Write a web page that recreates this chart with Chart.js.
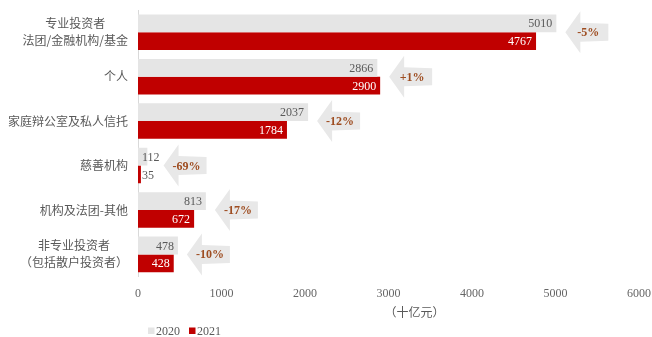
<!DOCTYPE html>
<html>
<head>
<meta charset="utf-8">
<script src="https://cdn.jsdelivr.net/npm/chart.js@4"></script>
<style>
  html, body { margin: 0; padding: 0; background: #fff; }
  #wrap { width: 652px; height: 337px; }
</style>
</head>
<body>
<div id="wrap"><canvas id="chart" width="652" height="337"></canvas></div>
<script>
// Dados do gráfico
const categorias = [
  ["专业投资者", "法团/金融机构/基金"],
  ["个人"],
  ["家庭辩公室及私人信托"],
  ["慈善机构"],
  ["机构及法团-其他"],
  ["非专业投资者", "（包括散户投资者）"],
];
const valores2020 = [5010, 2866, 2037, 112, 813, 478];
const valores2021 = [4767, 2900, 1784, 35, 672, 428];
const variacao = ["-5%", "+1%", "-12%", "-69%", "-17%", "-10%"];
const seriesNomes = ["2020", "2021"];
const ticksX = [0, 1000, 2000, 3000, 4000, 5000, 6000];
const tituloEixo = "（十亿元）";

const cores = {
  cinza: "#e5e5e5",
  vermelho: "#c00000",
  texto: "#595959",
  seta: "#e8e8e8",
  pct: "#9e4d21",
};
const serif = "'Liberation Serif', 'Noto Sans CJK SC', serif";
const cjk = "'Noto Sans CJK SC', 'Liberation Serif', sans-serif";

// Plugin: rótulos, setas, categorias, título do eixo e legenda
const extras = {
  id: "extras",
  afterDatasetsDraw(chart) {
    const ctx = chart.ctx;
    const x = chart.scales.x;
    const y = chart.scales.y;
    const base = x.getPixelForValue(0);
    const m0 = chart.getDatasetMeta(0);
    const m1 = chart.getDatasetMeta(1);

    ctx.save();
    ctx.textBaseline = "middle";
    ctx.font = "12px " + serif;

    // rótulos de valores
    const fimRotulo = [];
    categorias.forEach((c, i) => {
      let fim = 0;
      [[m0, valores2020, cores.texto], [m1, valores2021, "#fff"]].forEach(([meta, vals, cor]) => {
        const bar = meta.data[i];
        const txt = String(vals[i]);
        const w = ctx.measureText(txt).width;
        if (bar.x - base < 30) {
          ctx.fillStyle = cores.texto;
          ctx.textAlign = "left";
          ctx.fillText(txt, base + 4, bar.y + 1);
          fim = Math.max(fim, base + 4 + w);
        } else {
          ctx.fillStyle = cor;
          ctx.textAlign = "right";
          ctx.fillText(txt, bar.x - 4, bar.y + 1);
          fim = Math.max(fim, bar.x);
        }
      });
      fimRotulo.push(fim);
    });

    // setas com a variação
    categorias.forEach((c, i) => {
      const cy = y.getPixelForValue(i);
      const tip = fimRotulo[i] + (valores2020[i] < 300 ? 4 : 9);
      const head = 15, len = 43, hh = 21, sh = 9.5;
      ctx.fillStyle = cores.seta;
      ctx.beginPath();
      ctx.moveTo(tip, cy);
      ctx.lineTo(tip + head, cy - hh);
      ctx.lineTo(tip + head, cy - sh);
      ctx.lineTo(tip + len, cy - sh + 1);
      ctx.lineTo(tip + len, cy + sh - 1);
      ctx.lineTo(tip + head, cy + sh);
      ctx.lineTo(tip + head, cy + hh);
      ctx.closePath();
      ctx.fill();
      ctx.fillStyle = cores.pct;
      ctx.font = "bold 12px " + serif;
      ctx.textAlign = "center";
      ctx.fillText(variacao[i], tip + 23, cy + 1);
    });

    // categorias (eixo y)
    ctx.font = "12px " + cjk;
    ctx.fillStyle = cores.texto;
    ctx.textAlign = "center";
    categorias.forEach((linhas, i) => {
      const cy = y.getPixelForValue(i);
      const maxW = Math.max(...linhas.map((l) => ctx.measureText(l).width));
      const cx = x.left - 10 - maxW / 2;
      const passo = 17;
      linhas.forEach((l, k) => {
        ctx.fillText(l, cx, cy + (k - (linhas.length - 1) / 2) * passo);
      });
    });

    // título do eixo x
    ctx.fillText(tituloEixo, (x.left + x.right) / 2 + 26, 312);

    // legenda
    const ly = 331;
    let lx = 148;
    ctx.font = "12px " + serif;
    ctx.textAlign = "left";
    [cores.cinza, cores.vermelho].forEach((cor, k) => {
      ctx.fillStyle = cor;
      ctx.fillRect(lx, ly - 3.5, 6.5, 6.5);
      ctx.fillStyle = cores.texto;
      ctx.fillText(seriesNomes[k], lx + 8, ly + 0.5);
      lx += 41;
    });
    ctx.restore();
  },
};

new Chart(document.getElementById("chart").getContext("2d"), {
  type: "bar",
  data: {
    labels: categorias,
    datasets: [
      {
        label: seriesNomes[0],
        data: valores2020,
        backgroundColor: cores.cinza,
        categoryPercentage: 0.8,
        barPercentage: 1.0,
      },
      {
        label: seriesNomes[1],
        data: valores2021,
        backgroundColor: cores.vermelho,
        categoryPercentage: 0.8,
        barPercentage: 1.0,
      },
    ],
  },
  options: {
    indexAxis: "y",
    responsive: false,
    animation: false,
    layout: { padding: { left: 138, right: 13, top: 10, bottom: 26 } },
    plugins: { legend: { display: false }, tooltip: { enabled: false } },
    scales: {
      x: {
        min: 0,
        max: 6000,
        afterBuildTicks(axis) {
          axis.ticks = ticksX.map((v) => ({ value: v }));
        },
        afterFit(axis) {
          axis.paddingLeft = 0;
          axis.paddingRight = 0;
        },
        grid: { display: false, drawTicks: false },
        border: { display: false },
        ticks: {
          padding: 10,
          color: "#666",
          font: { family: serif, size: 12 },
          callback: (v) => String(v),
        },
      },
      y: {
        grid: { display: false, drawTicks: false },
        border: { display: true, color: "#d9d9d9", width: 1 },
        ticks: { display: false },
      },
    },
  },
  plugins: [extras],
});
</script>
</body>
</html>
